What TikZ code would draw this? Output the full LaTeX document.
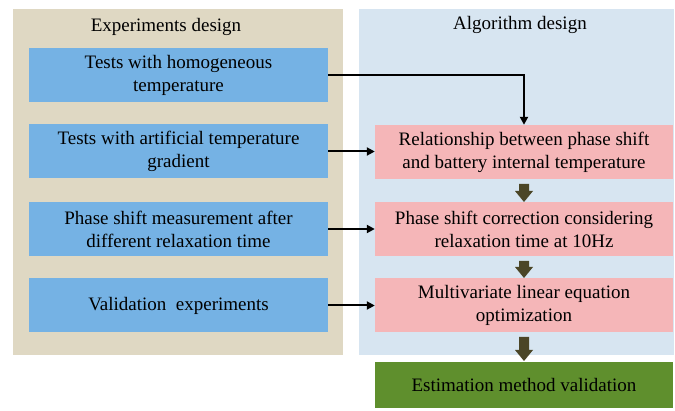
\documentclass[tikz,border=0pt]{standalone}
\usepackage{fontspec}
\setmainfont{Liberation Serif}
\usetikzlibrary{arrows.meta,calc}
\definecolor{tanbg}{HTML}{DFD8C3}
\definecolor{bluebg}{HTML}{D7E5F1}
\definecolor{bluebox}{HTML}{75B2E4}
\definecolor{pinkbox}{HTML}{F5B6B8}
\definecolor{greenbox}{HTML}{5F8F2D}
\definecolor{darkarrow}{HTML}{4B4627}
\tikzset{
  boxfont/.style={font=\fontsize{19}{23}\selectfont},
  expbox/.style={boxfont, fill=bluebox, draw=none, minimum width=299pt, minimum height=54pt, align=center, inner sep=0pt},
  algbox/.style={boxfont, fill=pinkbox, draw=none, minimum width=298pt, minimum height=54pt, align=center, inner sep=0pt},
  resbox/.style={boxfont, fill=greenbox, draw=none, minimum width=298pt, minimum height=46pt, align=center, inner sep=0pt},
  title/.style={boxfont, inner sep=0pt},
  conn/.style={line width=2pt, -{Triangle[length=8pt,width=8pt]}},
  blockarrow/.style={fill=darkarrow, draw=none}
}
\begin{document}
\begin{tikzpicture}[x=1pt,y=-1pt]
\useasboundingbox (0,0) rectangle (675,411);
% panels
\fill[tanbg] (13,9) rectangle (343,355);
\fill[bluebg] (359,9) rectangle (674,355);
\node[title] (t1) at (166,27) {Experiments design};
\node[title] (t2) at (520,25) {Algorithm design};
% experiment boxes
\node[expbox] (e1) at (178.5,75.5) {Tests with homogeneous\\temperature};
\node[expbox] (e2) at (178.5,151.5) {Tests with artificial temperature\\gradient};
\node[expbox] (e3) at (178.5,229) {Phase shift measurement after\\different relaxation time};
\node[expbox] (e4) at (178.5,305.5) {Validation~~experiments};
% algorithm boxes
\node[algbox] (a1) at (524,152) {Relationship between phase shift\\and battery internal temperature};
\node[algbox] (a2) at (524,229) {Phase shift correction considering\\relaxation time at 10Hz};
\node[algbox] (a3) at (524,305.5) {Multivariate linear equation\\optimization};
\node[resbox] (r1) at (524,385) {Estimation method validation};
% connectors
\draw[conn] (e1.east) -| (a1.north);
\draw[conn] (e2.east) -- (e2.east -| a1.west);
\draw[conn] (e3.east) -- (e3.east -| a2.west);
\draw[conn] (e4.east) -- (e4.east -| a3.west);
% block arrows
\foreach \top/\tip in {184/202, 261/278, 337/361} {
  \fill[blockarrow] (519,\top) -- (529,\top) -- (529,\tip-11) -- (533,\tip-11) -- (524,\tip) -- (515,\tip-11) -- (519,\tip-11) -- cycle;
}
\end{tikzpicture}
\end{document}
